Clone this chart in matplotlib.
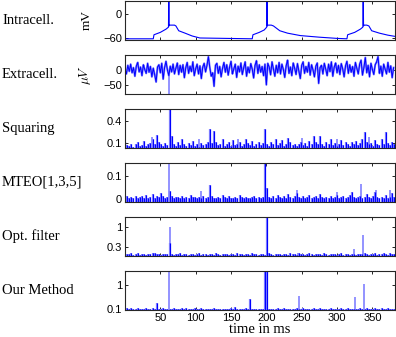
import numpy as np
import matplotlib
matplotlib.use("Agg")
import matplotlib.pyplot as plt

# sampling grids (ms)
t_ms = np.arange(0, 382, 3)
t_extra = np.arange(0, 381, 2)

# intracellular membrane potential (mV)
intra_t = [0, 40, 41, 50, 58, 61.5, 62, 62.5, 63, 70, 72, 76, 85, 95, 106, 180, 181, 190, 197, 200.5,
           201, 201.5, 202, 207, 210, 219, 230, 248, 275, 300, 314, 315, 325, 333, 336.5, 337, 337.5,
           338, 342, 345, 349, 360, 372, 382]
intra_v = [-62, -62, -52, -46, -38, -33, 60, -30, -28, -28, -30, -42, -48, -55, -60, -62, -52, -46,
           -40, -33, 60, -30, -28, -28, -30, -42, -48, -54, -58, -61, -62, -52, -46, -38, -33, 60, -30,
           -28, -28, -30, -42, -48, -53, -56]

# extracellular recording (uV), every 2 ms
extra = [5, -12, 18, -3, 22, -8, 10, -20, 15, 28, -5, 12, -18, 20, 3, -10, 25, -6, 14, -22,
         8, -15, -40, 12, 20, -8, 25, -30, 10, 32, 2, -18, 15, -5, 22, -12, 8, 26, -14, 18,
         -6, 20, -25, 10, 28, -10, 15, -4, 30, -18, 6, 22, -12, 16, -28, 12, 25, -5, 18, 48,
         10, -20, -8, -55, 18, 25, -10, 14, -22, 8, 28, -6, 20, -16, 12, 32, -12, 6, 22, -24,
         15, -5, 26, -14, 10, 30, -20, 12, -8, 24, 5, -26, 18, 34, -10, 20, -6, 14, -18, 22,
         -50, 25, 12, -15, 30, 5, -20, 18, -8, 28, -12, 22, 4, -24, 16, 36, -10, 12, -18, 26,
         8, -14, 24, -2, -28, 18, 30, -10, 14, -6, 28, -16, 20, 2, -22, 15, 26, -45, 10, 18,
         -12, 25, 5, -18, 22, -4, 30, -20, 12, 26, -8, 18, -14, 24, 6, -22, 16, 32, -10, 20,
         -6, 14, -20, 28, 8, -12, 22, 36, -16, 10, 45, -8, 18, -22, 25, 4, -14, 20, 30, 48,
         -10, 15, -20, 22, 5, -12, 28, -6, 16, -25, 10]
extra_light_t = [62]
extra_light_v = [-90]

squaring = [0.12, 0.07, 0.06, 0.09, 0.05, 0.08, 0.11, 0.06, 0.07, 0.13, 0.06, 0.08, 0.10, 0.16, 0.09, 0.21,
            0.12, 0.08, 0.06, 0.10, 0.07, 0.62, 0.20, 0.09, 0.06, 0.11, 0.07, 0.15, 0.08, 0.06, 0.10, 0.07,
            0.13, 0.06, 0.08, 0.05, 0.10, 0.07, 0.09, 0.12, 0.29, 0.10, 0.27, 0.12, 0.07, 0.09, 0.15, 0.06,
            0.08, 0.11, 0.06, 0.14, 0.07, 0.09, 0.12, 0.06, 0.08, 0.16, 0.10, 0.07, 0.13, 0.06, 0.09, 0.11,
            0.07, 0.10, 0.29, 0.08, 0.06, 0.12, 0.09, 0.16, 0.07, 0.10, 0.14, 0.06, 0.08, 0.17, 0.11, 0.07,
            0.09, 0.06, 0.08, 0.12, 0.07, 0.10, 0.06, 0.13, 0.09, 0.20, 0.11, 0.08, 0.20, 0.09, 0.06, 0.12,
            0.08, 0.15, 0.07, 0.10, 0.06, 0.09, 0.14, 0.07, 0.11, 0.08, 0.06, 0.12, 0.09, 0.13, 0.07, 0.10,
            0.16, 0.25, 0.12, 0.08, 0.10, 0.06, 0.14, 0.09, 0.07, 0.15, 0.08, 0.25, 0.10, 0.07, 0.12, 0.09]
squaring_light_t = [38, 105, 160, 250, 300, 345]
squaring_light_v = [0.18, 0.15, 0.16, 0.17, 0.16, 0.18]

mteo = [0.008, 0.012, 0.004, 0.010, 0.006, 0.014, 0.005, 0.009, 0.012, 0.004, 0.018, 0.007, 0.010, 0.022, 0.006, 0.015,
        0.009, 0.028, 0.012, 0.006, 0.010, 0.034, 0.014, 0.005, 0.011, 0.008, 0.004, 0.013, 0.007, 0.010, 0.005, 0.016,
        0.008, 0.011, 0.004, 0.009, 0.006, 0.012, 0.005, 0.010, 0.063, 0.012, 0.007, 0.004, 0.010, 0.006, 0.018, 0.008,
        0.005, 0.012, 0.007, 0.004, 0.010, 0.006, 0.020, 0.008, 0.005, 0.011, 0.007, 0.004, 0.009, 0.014, 0.006, 0.010,
        0.005, 0.008, 0.200, 0.048, 0.010, 0.006, 0.012, 0.005, 0.020, 0.009, 0.007, 0.015, 0.006, 0.022, 0.010, 0.006,
        0.012, 0.028, 0.008, 0.005, 0.014, 0.007, 0.010, 0.018, 0.006, 0.009, 0.012, 0.005, 0.024, 0.008, 0.006, 0.011,
        0.007, 0.013, 0.005, 0.009, 0.020, 0.006, 0.010, 0.014, 0.005, 0.008, 0.018, 0.030, 0.011, 0.006, 0.009, 0.012,
        0.006, 0.010, 0.022, 0.008, 0.005, 0.014, 0.030, 0.009, 0.006, 0.011, 0.007, 0.016, 0.005, 0.008, 0.026, 0.010]
mteo_light_t = [62, 108, 243, 300, 334, 355, 375]
mteo_light_v = [0.17, 0.035, 0.040, 0.030, 0.067, 0.040, 0.040]

opt_filter = [0.05, 0.08, 0.06, 0.10, 0.05, 0.07, 0.09, 0.05, 0.06, 0.08, 0.05, 0.07, 0.06, 0.09, 0.12, 0.07,
              0.06, 0.05, 0.08, 0.06, 0.07, 0.45, 0.08, 0.05, 0.07, 0.06, 0.09, 0.05, 0.07, 0.06, 0.05, 0.08,
              0.06, 0.05, 0.07, 0.09, 0.05, 0.06, 0.08, 0.05, 0.07, 0.06, 0.05, 0.09, 0.06, 0.05, 0.07, 0.06,
              0.08, 0.05, 0.07, 0.06, 0.05, 0.10, 0.06, 0.07, 0.05, 0.08, 0.06, 0.05, 0.12, 0.06, 0.07, 0.05,
              0.06, 0.08, 0.05, 1.50, 0.09, 0.06, 0.05, 0.07, 0.06, 0.08, 0.05, 0.07, 0.06, 0.05, 0.09, 0.06,
              0.07, 0.05, 0.12, 0.08, 0.06, 0.05, 0.07, 0.10, 0.06, 0.05, 0.08, 0.06, 0.07, 0.05, 0.09, 0.06,
              0.05, 0.07, 0.06, 0.08, 0.05, 0.06, 0.09, 0.05, 0.07, 0.06, 0.05, 0.08, 0.06, 0.05, 0.07, 0.06,
              0.08, 0.09, 0.06, 0.05, 0.07, 0.06, 0.10, 0.05, 0.08, 0.06, 0.11, 0.07, 0.05, 0.09, 0.06, 0.07]
opt_light_t = [63, 245, 324, 337]
opt_light_v = [1.0, 0.12, 0.23, 0.72]

our_method = [0.10, 0.14, 0.09, 0.12, 0.08, 0.10, 0.13, 0.09, 0.11, 0.08, 0.15, 0.09, 0.10, 0.12, 0.09, 0.33,
              0.10, 0.08, 0.12, 0.09, 0.11, 0.10, 0.08, 0.13, 0.09, 0.10, 0.08, 0.12, 0.09, 0.14, 0.08, 0.10,
              0.09, 0.12, 0.08, 0.10, 0.13, 0.09, 0.08, 0.11, 0.10, 0.08, 0.12, 0.09, 0.10, 0.08, 0.11, 0.09,
              0.08, 0.10, 0.12, 0.09, 0.16, 0.11, 0.08, 0.10, 0.09, 0.12, 0.08, 0.48, 0.10, 0.09, 0.11, 0.08,
              0.10, 0.09, 1.80, 1.80, 0.10, 0.08, 0.11, 0.09, 0.13, 0.08, 0.10, 0.12, 0.09, 0.08, 0.11, 0.10,
              0.09, 0.14, 0.08, 0.10, 0.12, 0.09, 0.08, 0.11, 0.10, 0.15, 0.08, 0.09, 0.12, 0.10, 0.08, 0.11,
              0.09, 0.13, 0.08, 0.10, 0.11, 0.09, 0.14, 0.08, 0.10, 0.12, 0.09, 0.08, 0.11, 0.10, 0.09, 0.12,
              0.08, 0.10, 0.13, 0.09, 0.11, 0.08, 0.12, 0.10, 0.09, 0.14, 0.08, 0.10, 0.12, 0.09, 0.11, 0.10]
our_light_t = [62, 246, 325, 338]
our_light_v = [1.8, 0.60, 0.55, 1.07]

row_labels = ['Intracell.', 'Extracell.', 'Squaring', 'MTEO[1,3,5]', 'Opt. filter', 'Our Method']
x_ticks = [50, 100, 150, 200, 250, 300, 350]

DARK = '#0000ff'
LIGHT = '#8080ff'
W, H = 396, 337

plt.rcParams['mathtext.fontset'] = 'cm'
fig = plt.figure(figsize=(W / 100, H / 100), dpi=100)

tops = [1, 55, 109, 163, 217, 271]
axes = []
for top in tops:
    ax = fig.add_axes([125 / W, 1 - (top + 39) / H, 270 / W, 39 / H])
    axes.append(ax)


def style(ax, ylim, yticks, ylabels, last=False):
    ax.set_xlim(0, 382)
    ax.set_ylim(*ylim)
    ax.set_xticks(x_ticks)
    ax.set_yticks(yticks)
    ax.set_yticklabels(ylabels, family='Liberation Sans', fontsize=8)
    if last:
        ax.set_xticklabels([str(v) for v in x_ticks], family='Liberation Sans', fontsize=8)
    else:
        ax.set_xticklabels([])
    ax.tick_params(direction='in', length=2.5, width=0.6, top=True, right=True, pad=2)
    for s in ax.spines.values():
        s.set_linewidth(0.8)
        s.set_color('0.15')


# Intracellular
ax = axes[0]
ax.plot(intra_t, intra_v, color=DARK, lw=0.8)
style(ax, (-65, 32), [-60, 0], ['\u221260', '0'])
ax.set_ylabel('mV', family='Liberation Serif', fontsize=9.5)
ax.yaxis.set_label_coords(-0.12, 0.5)

# Extracellular
ax = axes[1]
ax.plot(t_extra, extra, color=LIGHT, lw=1.5)
ax.vlines(extra_light_t, 0, extra_light_v, color=LIGHT, lw=1.2)
ax.plot(t_extra, extra, color=DARK, lw=0.7)
style(ax, (-82, 54), [-50, 0], ['\u221250', '0'])
ax.set_ylabel(r'$\mu V$', fontsize=9.5)
ax.yaxis.set_label_coords(-0.12, 0.5)

# detector outputs, drawn as dense vertical strokes from the floor
panels = [
    (squaring, squaring_light_t, squaring_light_v, (0.03, 0.57), [0.1, 0.4], ['0.1', '0.4']),
    (mteo, mteo_light_t, mteo_light_v, (-0.0125, 0.158), [0, 0.1], ['0', '0.1']),
    (opt_filter, opt_light_t, opt_light_v, (0, 1.35), [0.3, 1], ['0.3', '1']),
    (our_method, our_light_t, our_light_v, (0.06, 1.55), [0.1, 1], ['0.1', '1']),
]
for k, (vals, lt, lv, ylim, yt, yl) in enumerate(panels):
    ax = axes[2 + k]
    floor = ylim[0]
    ax.vlines(t_ms, floor, vals, color=LIGHT, lw=1.6)
    ax.vlines(lt, floor, lv, color=LIGHT, lw=1.2)
    ax.vlines(t_ms, floor, vals, color=DARK, lw=0.8)
    style(ax, ylim, yt, yl, last=(k == 3))

axes[-1].set_xlabel('time in ms', family='Liberation Serif', fontsize=10.5, labelpad=0)

for top, lab in zip(tops, row_labels):
    fig.text(2 / W, 1 - (top + 19.5) / H, lab, family='Liberation Serif', fontsize=10.5,
             ha='left', va='center')

fig.savefig('out.png', dpi=100)
